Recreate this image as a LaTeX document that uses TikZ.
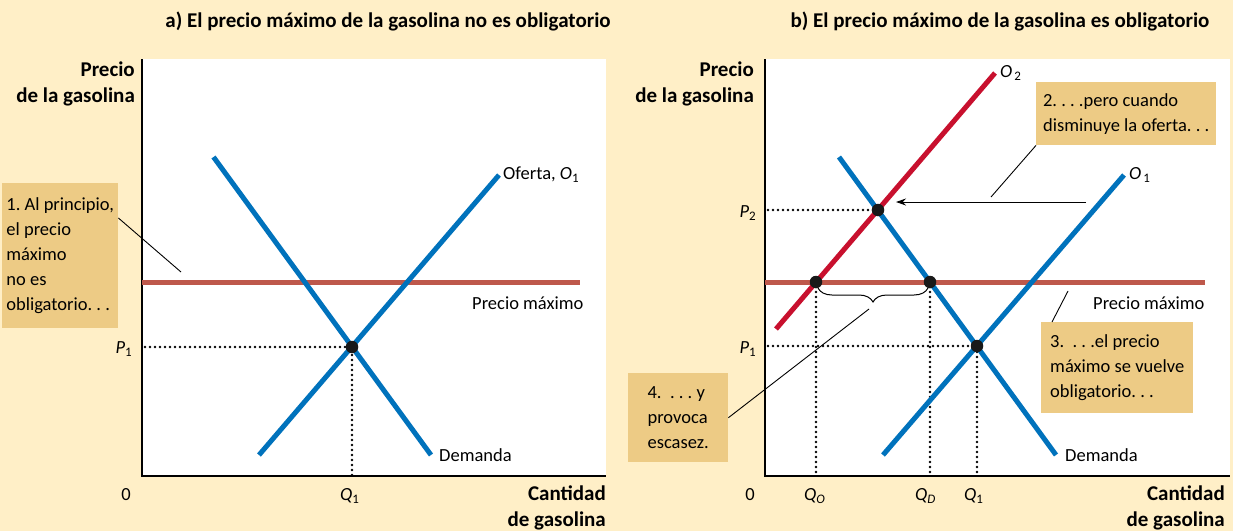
\documentclass[tikz,border=0pt]{standalone}
\usepackage{fontspec}
\setmainfont{Carlito}
\usepackage{tikz}
\usetikzlibrary{arrows.meta, positioning, decorations.pathreplacing}
\definecolor{bgfill}{HTML}{FFEFC7}
\definecolor{notefill}{HTML}{EDCB85}
\definecolor{curveblue}{HTML}{0072BC}
\definecolor{curvered}{HTML}{C8102E}
\definecolor{ceilred}{HTML}{BE584B}
\newcommand{\symsub}[2]{\textit{#1}\raisebox{-0.35ex}{\fontsize{13}{13}\selectfont #2}}
\frenchspacing
\tikzset{
  txt/.style={font=\fontsize{18.5}{25}\selectfont, inner sep=0pt},
  hdr/.style={font=\fontsize{21}{26}\selectfont\bfseries, inner sep=0pt},
  note/.style={txt, fill=notefill, align=left, anchor=north west, inner sep=0pt},
  axis/.style={line width=1.3pt, draw=black},
  ceil/.style={line width=5pt, draw=ceilred},
  supblue/.style={line width=5pt, draw=curveblue},
  supred/.style={line width=5pt, draw=curvered},
  dem/.style={line width=5pt, draw=curveblue},
  dots/.style={line width=2.6pt, dash pattern=on 0pt off 5pt, line cap=round},
  eqpt/.style={circle, fill=black!90, inner sep=0pt, minimum size=12.5pt},
  lead/.style={line width=0.9pt, draw=black},
  shiftarr/.style={line width=1pt, -{Stealth[length=10pt, width=7pt]}},
  bracket/.style={line width=1pt, decorate, decoration={brace, mirror, amplitude=14pt}},
}
\begin{document}
\begin{tikzpicture}[x=1pt, y=-1pt]
  \useasboundingbox (0,0) rectangle (1233,531);
  \fill[bgfill] (0,0) rectangle (1233,531);

  % titles
  \node[hdr, anchor=base] (ttlA) at (388,27) {a) El precio máximo de la gasolina no es obligatorio};
  \node[hdr, anchor=base] (ttlB) at (1000,27) {b) El precio máximo de la gasolina es obligatorio};

  %% panel a
  \fill[white] (142,59) rectangle (606,476);
  \coordinate (aO) at (142,476);
  \draw[axis] (142,59) -- (aO) -- (606,476);
  \coordinate (aCl) at (142,282);
  \coordinate (aCr) at (580,282);
  \coordinate (aDt) at (213.5,157);
  \coordinate (aDb) at (431,455);
  \coordinate (aSb) at (259,455);
  \coordinate (aSt) at (499,175);
  \coordinate (aE) at (352,347);
  \draw[ceil] (aCl) -- (aCr);
  \draw[dots] (145,347) -- (aE) -- (352,476);
  \draw[dem] (aDt) -- (aDb);
  \draw[supblue] (aSb) -- (aSt);
  \node[eqpt] (aEq) at (aE) {};

  \node[txt, anchor=west] (aSlbl) at ([xshift=4pt]aSt) {Oferta, \symsub{O}{1}};
  \node[txt, anchor=west] (aDlbl) at ([xshift=8pt]aDb) {Demanda};
  \node[txt, anchor=base west] (aClbl) at (472,309) {Precio máximo};
  \node[txt, anchor=base east] (aP1) at (132,353) {\symsub{P}{1}};
  \node[txt, anchor=base] (a0) at (126,500) {0};
  \node[txt, anchor=base west] (aQ1) at (340,500) {\symsub{Q}{1}};
  \node[hdr, anchor=north east, align=right] (aYlbl) at (135,62) {Precio\\de la gasolina};
  \node[hdr, anchor=north east, align=right] (aXlbl) at (606,486) {Cantidad\\de gasolina};

  \node[note, minimum width=116pt, minimum height=145pt] (note1) at (2,183)
    {1. Al principio,\\el precio\\máximo\\no es\\obligatorio. . .};
  \coordinate (l1e) at (181,272);
  \draw[lead] ([yshift=-35pt]note1.north east) -- (l1e);

  %% panel b
  \fill[white] (765,59) rectangle (1230,476);
  \coordinate (bO) at (765,476);
  \draw[axis] (765,59) -- (bO) -- (1230,476);
  \coordinate (bCl) at (765,282);
  \coordinate (bCr) at (1205,282);
  \coordinate (bDt) at (839,157);
  \coordinate (bDb) at (1056,455);
  \coordinate (bS1b) at (883,455);
  \coordinate (bS1t) at (1124,175);
  \coordinate (bS2b) at (776,329);
  \coordinate (bS2t) at (995,73);
  \coordinate (bA) at (816,282);
  \coordinate (bB) at (930,282);
  \coordinate (bP) at (878,210);
  \coordinate (bE) at (977,346);
  \draw[ceil] (bCl) -- (bCr);
  \draw[dots] (768,210) -- (bP);
  \draw[dots] (768,346) -- (bE) -- (977,476);
  \draw[dots] (bA) -- (816,476);
  \draw[dots] (bB) -- (930,476);
  \draw[dem] (bDt) -- (bDb);
  \draw[supblue] (bS1b) -- (bS1t);
  \draw[supred] (bS2b) -- (bS2t);
  \node[eqpt] (bEqA) at (bA) {};
  \node[eqpt] (bEqB) at (bB) {};
  \node[eqpt] (bEqP) at (bP) {};
  \node[eqpt] (bEqE) at (bE) {};
  \draw[bracket] (818,288) coordinate (brL) -- (928,288) coordinate (brR);

  \coordinate (arrS) at (1086,202);
  \coordinate (arrE) at (896,202);
  \draw[shiftarr] (arrS) -- (arrE);

  \node[txt, anchor=west] (bS2lbl) at ([xshift=5pt]bS2t) {\symsub{O}{\,2}};
  \node[txt, anchor=west] (bS1lbl) at ([xshift=5pt]bS1t) {\symsub{O}{\,1}};
  \node[txt, anchor=west] (bDlbl) at ([xshift=9pt]bDb) {Demanda};
  \node[txt, anchor=base west] (bClbl) at (1093,309) {Precio máximo};
  \node[txt, anchor=base east] (bP2) at (756,217) {\symsub{P}{2}};
  \node[txt, anchor=base east] (bP1) at (756,353) {\symsub{P}{1}};
  \node[txt, anchor=base] (b0) at (750,500) {0};
  \node[txt, anchor=base west] (bQO) at (804,500) {\symsub{Q}{\textit{O}}};
  \node[txt, anchor=base west] (bQD) at (915,500) {\symsub{Q}{\textit{D}}};
  \node[txt, anchor=base west] (bQ1) at (964,500) {\symsub{Q}{1}};
  \node[hdr, anchor=north east, align=right] (bYlbl) at (754,62) {Precio\\de la gasolina};
  \node[hdr, anchor=north east, align=right] (bXlbl) at (1225,486) {Cantidad\\de gasolina};

  \node[note, minimum width=180pt, minimum height=63pt] (note2) at (1036,82)
    {2. . . .pero cuando\\disminuye la oferta. . .};
  \node[note, minimum width=152pt, minimum height=91pt] (note3) at (1041,322)
    {3.\ \ . . .el precio\\máximo se vuelve\\obligatorio. . .};
  \node[note, minimum width=100pt, minimum height=89pt] (note4) at (628,373)
    {4.\ \ . . . y\\provoca\\escasez.\hspace{12pt}};
  \coordinate (l2e) at (991,197);
  \coordinate (l3e) at (1068,291);
  \coordinate (l4e) at (869,309);
  \draw[lead] (note2.south west) -- (l2e);
  \draw[lead] ([xshift=11pt]note3.north west) -- (l3e);
  \draw[lead] (note4.east) -- (l4e);
\end{tikzpicture}
\end{document}
